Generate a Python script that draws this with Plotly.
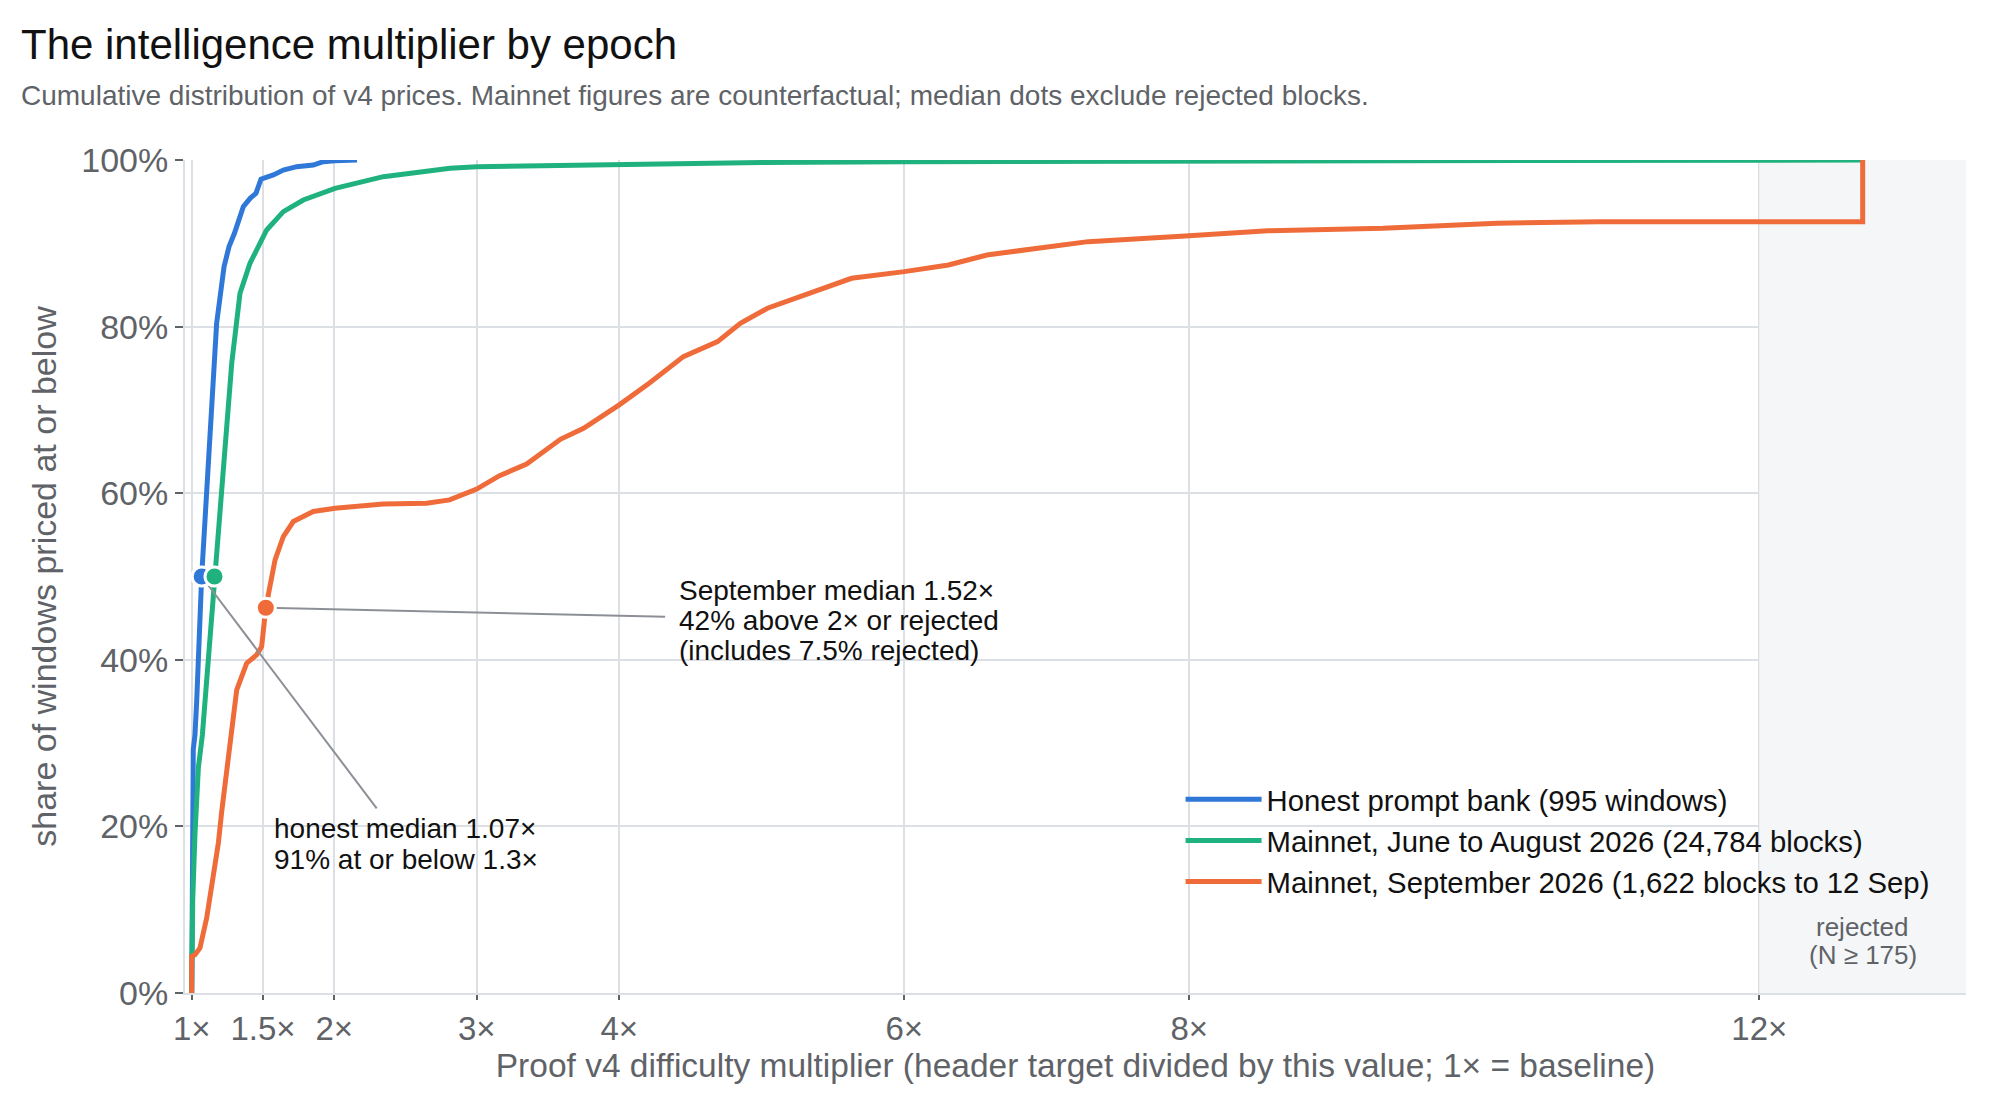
import plotly.graph_objects as go

# CDF points (x = multiplier, y = share at or below)
honest_x = [1.0, 1.003, 1.007, 1.011, 1.023, 1.035, 1.07, 1.093, 1.128, 1.175, 1.227, 1.262,
            1.30, 1.362, 1.41, 1.451, 1.486, 1.573, 1.643, 1.737, 1.853, 1.924, 2.006, 2.16]
honest_y = [0.0, 0.10, 0.248, 0.292, 0.31, 0.35, 0.50, 0.565, 0.652, 0.804, 0.872, 0.896,
            0.912, 0.944, 0.954, 0.96, 0.977, 0.982, 0.988, 0.992, 0.994, 0.998, 0.999, 1.0]

summer_x = [1.0, 1.007, 1.023, 1.047, 1.075, 1.16, 1.24, 1.281, 1.339, 1.409, 1.526, 1.643,
            1.783, 2.006, 2.345, 2.813, 3.0, 4.0, 5.0, 6.0, 8.0, 10.0, 12.725]
summer_y = [0.0, 0.111, 0.191, 0.271, 0.31, 0.50, 0.665, 0.756, 0.84, 0.876, 0.916, 0.938,
            0.952, 0.966, 0.98, 0.99, 0.992, 0.995, 0.997, 0.998, 0.999, 0.9995, 1.0]

sept_x = [1.0, 1.0, 1.023, 1.058, 1.105, 1.152, 1.187, 1.21, 1.246, 1.281, 1.316, 1.386,
          1.456, 1.491, 1.52, 1.585, 1.643, 1.713, 1.853, 2.006, 2.345, 2.649, 2.81, 3.0,
          3.16, 3.35, 3.59, 3.75, 3.91, 4.0, 4.21, 4.45, 4.69, 4.85, 5.04, 5.23, 5.45,
          5.63, 6.0, 6.31, 6.58, 7.03, 7.29, 8.0, 8.55, 9.36, 10.16, 10.88, 12.725, 12.725]
sept_y = [0.0, 0.044, 0.046, 0.054, 0.09, 0.138, 0.18, 0.217, 0.269, 0.317, 0.364, 0.396,
          0.406, 0.416, 0.4625, 0.52, 0.548, 0.566, 0.578, 0.582, 0.587, 0.588, 0.592, 0.605,
          0.621, 0.635, 0.665, 0.678, 0.696, 0.706, 0.732, 0.764, 0.782, 0.804, 0.822, 0.834, 0.848,
          0.858, 0.866, 0.874, 0.886, 0.896, 0.902, 0.909, 0.915, 0.918, 0.924, 0.926, 0.926, 1.0]

series_names = ["Honest prompt bank (995 windows)",
                "Mainnet, June to August 2026 (24,784 blocks)",
                "Mainnet, September 2026 (1,622 blocks to 12 Sep)"]
colors = ["#2f78d8", "#1fb27e", "#ef6c3a"]

median_x = [1.07, 1.16, 1.52]
median_y = [0.5, 0.5, 0.4625]

# callouts: leader end point, text block left edge and line positions
honest_note = ["honest median 1.07×", "91% at or below 1.3×"]
honest_tail = (2.298, 0.2217)
honest_text_x = 1.561
honest_text_y = [0.1977, 0.1605]

sept_note = ["September median 1.52×", "42% above 2× or rejected", "(includes 7.5% rejected)"]
sept_tail = (4.322, 0.4517)
sept_text_x = 4.408
sept_text_y = [0.483, 0.447, 0.411]

rejected_note = ["rejected", "(N ≥ 175)"]
rejected_text_y = [0.0796, 0.0456]

tick_vals = [1, 1.5, 2, 3, 4, 6, 8, 12]
tick_text = ["1×", "1.5×", "2×", "3×", "4×", "6×", "8×", "12×"]
y_ticks = [0, 0.2, 0.4, 0.6, 0.8, 1.0]

rejected_band = [12, 13.45]

FONT = "Liberation Sans, Arial, sans-serif"
GRAY = "#5f6368"
GRID = "#dcdfe3"
INK = "#111111"
LEADER = "#8c9096"

fig = go.Figure()

for xs, ys, name, col in zip([honest_x, summer_x, sept_x], [honest_y, summer_y, sept_y],
                             series_names, colors):
    fig.add_trace(go.Scatter(x=xs, y=ys, mode="lines", name=name,
                             line=dict(color=col, width=5)))

# leader lines from the median dots to the callouts
for i, tail in [(0, honest_tail), (2, sept_tail)]:
    fig.add_trace(go.Scatter(x=[median_x[i], tail[0]], y=[median_y[i], tail[1]],
                             mode="lines", showlegend=False, hoverinfo="skip",
                             line=dict(color=LEADER, width=2)))

fig.add_trace(go.Scatter(
    x=median_x, y=median_y, mode="markers", showlegend=False,
    marker=dict(color=colors, size=19, line=dict(color="white", width=3))))

fig.add_shape(type="rect", x0=rejected_band[0], x1=rejected_band[1], y0=0, y1=1,
              xref="x", yref="y", fillcolor="#f5f6f8", line_width=0, layer="between")

for txt, yy in zip(rejected_note, rejected_text_y):
    fig.add_annotation(x=sum(rejected_band) / 2, y=yy, text=txt, showarrow=False,
                       font=dict(size=26, color=GRAY, family=FONT))

for lines, tx, tys in [(honest_note, honest_text_x, honest_text_y),
                       (sept_note, sept_text_x, sept_text_y)]:
    for txt, yy in zip(lines, tys):
        fig.add_annotation(x=tx, y=yy, text=txt, showarrow=False, xanchor="left",
                           yanchor="middle", font=dict(size=28, color=INK, family=FONT))

fig.add_annotation(xref="paper", yref="paper", x=-0.0932, y=1.139, xanchor="left", yanchor="middle",
                   text="The intelligence multiplier by epoch", showarrow=False,
                   font=dict(size=42, color=INK, family=FONT))
fig.add_annotation(xref="paper", yref="paper", x=-0.0932, y=1.078, xanchor="left", yanchor="middle",
                   text="Cumulative distribution of v4 prices. Mainnet figures are counterfactual; "
                        "median dots exclude rejected blocks.",
                   showarrow=False, font=dict(size=28, color=GRAY, family=FONT))

fig.update_layout(
    width=2000, height=1120,
    margin=dict(l=177, r=42, t=152, b=135),
    plot_bgcolor="white", paper_bgcolor="white",
    font=dict(family=FONT, color=GRAY),
    legend=dict(x=0.559, y=0.2632, xanchor="left", yanchor="top",
                bgcolor="rgba(0,0,0,0)", itemwidth=76,
                font=dict(size=29.3, color=INK, family=FONT)),
)

fig.update_xaxes(range=[0.953, rejected_band[1]], tickvals=tick_vals, ticktext=tick_text,
                 showgrid=True, gridcolor=GRID, gridwidth=2, zeroline=False,
                 showline=True, linecolor=GRID, linewidth=2,
                 ticks="outside", ticklen=5, tickwidth=2, tickcolor=GRAY,
                 tickfont=dict(size=33, color=GRAY),
                 title=dict(text="Proof v4 difficulty multiplier (header target divided by this value; 1× = baseline)",
                            font=dict(size=33.5, color=GRAY), standoff=5))
fig.update_yaxes(range=[0, 1], tickvals=y_ticks, tickformat=".0%",
                 showgrid=True, gridcolor=GRID, gridwidth=2, zeroline=False,
                 showline=True, linecolor=GRID, linewidth=2,
                 ticks="outside", ticklen=8, tickwidth=2, tickcolor=GRAY,
                 tickfont=dict(size=34, color=GRAY),
                 title=dict(text="share of windows priced at or below",
                            font=dict(size=34, color=GRAY), standoff=14))

fig.write_html("out.html")
